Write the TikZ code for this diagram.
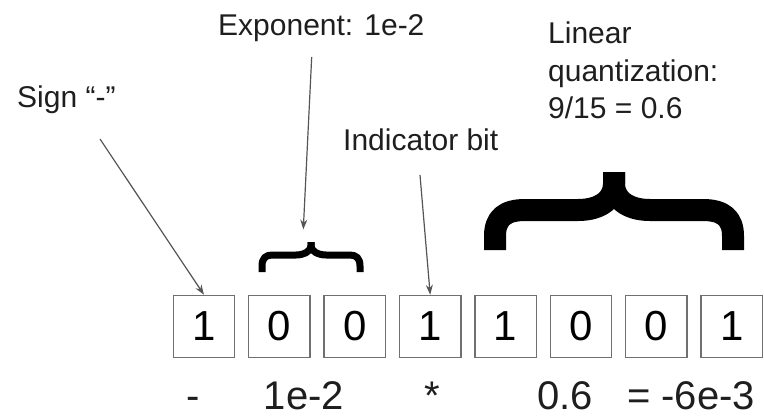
\documentclass[tikz,border=0pt]{standalone}
\usepackage{fontspec}
\setmainfont{Liberation Sans}
\usetikzlibrary{arrows.meta}
\definecolor{boxgray}{HTML}{707070}
\definecolor{arrgray}{HTML}{555555}
\definecolor{txt}{HTML}{1E1E1E}
\tikzset{
  bitbox/.style={draw=boxgray, line width=1.4pt, minimum width=61.5pt, minimum height=62pt, inner sep=0pt, text=black, font=\fontsize{42pt}{42pt}\selectfont},
  lbl/.style={inner sep=0pt, anchor=base west, text=txt, font=\fontsize{30pt}{37.5pt}\selectfont},
  bot/.style={inner sep=0pt, anchor=base, text=txt, font=\fontsize{40pt}{40pt}\selectfont},
  pointer/.style={draw=arrgray, line width=1.2pt, -{Stealth[length=10pt,width=7pt]}},
  bigbrace/.style={line width=22pt, line cap=butt, line join=round},
  smallbrace/.style={line width=7pt, line cap=butt, line join=round}
}
\begin{document}
\begin{tikzpicture}[x=1pt,y=-1pt]
\useasboundingbox (0,0) rectangle (764,418);
% bit boxes
\foreach \d [count=\i] in {1,0,0,1,1,0,0,1}{
  \node[bitbox] (b\i) at ({204+75.4*(\i-1)},326.5) {\d};
}
% labels
\node[lbl] (sign) at (17,107) {Sign “-”};
\node[lbl] (expo) at (218,35) {Exponent: 1e-2};
\node[lbl] (indic) at (343,150) {Indicator bit};
\node[lbl, align=left, anchor=north west] (lin) at (548,22) {Linear\\quantization:\\9/15 = 0.6};
% bottom row
\node[bot] (m) at (193,409.5) {-};
\node[bot] (e) at (304,409.5) {1e-2};
\node[bot] (s) at (432,409.5) {*};
\node[bot] (q) at (565,409.5) {0.6};
\node[bot] (r) at (691,409.5) {= -6e-3};
% arrows
\coordinate (signstart) at (100,139);
\coordinate (expstart) at (311.7,57);
\coordinate (exptip) at (303.3,229.5);
\coordinate (indstart) at (420,175);
\draw[pointer] (signstart) -- (b1.north);
\draw[pointer] (expstart) -- (exptip);
\draw[pointer] (indstart) -- (b4.north);
% small brace
\draw[smallbrace] (262,272) -- (262,266) .. controls (262,258) and (266,255) .. (272,255) -- (296,255) .. controls (304,255) and (311,251) .. (311,246) -- (311,242);
\draw[smallbrace] (360,272) -- (360,266) .. controls (360,258) and (356,255) .. (350,255) -- (326,255) .. controls (318,255) and (311,251) .. (311,246) -- (311,242);
% big brace
\draw[bigbrace] (495,250) -- (495,236) .. controls (495,218) and (505,210) .. (525,210) -- (578,210) .. controls (602,210) and (614,198) .. (614,184) -- (614,172);
\draw[bigbrace] (733,250) -- (733,236) .. controls (733,218) and (723,210) .. (703,210) -- (650,210) .. controls (626,210) and (614,198) .. (614,184) -- (614,172);
\end{tikzpicture}
\end{document}
